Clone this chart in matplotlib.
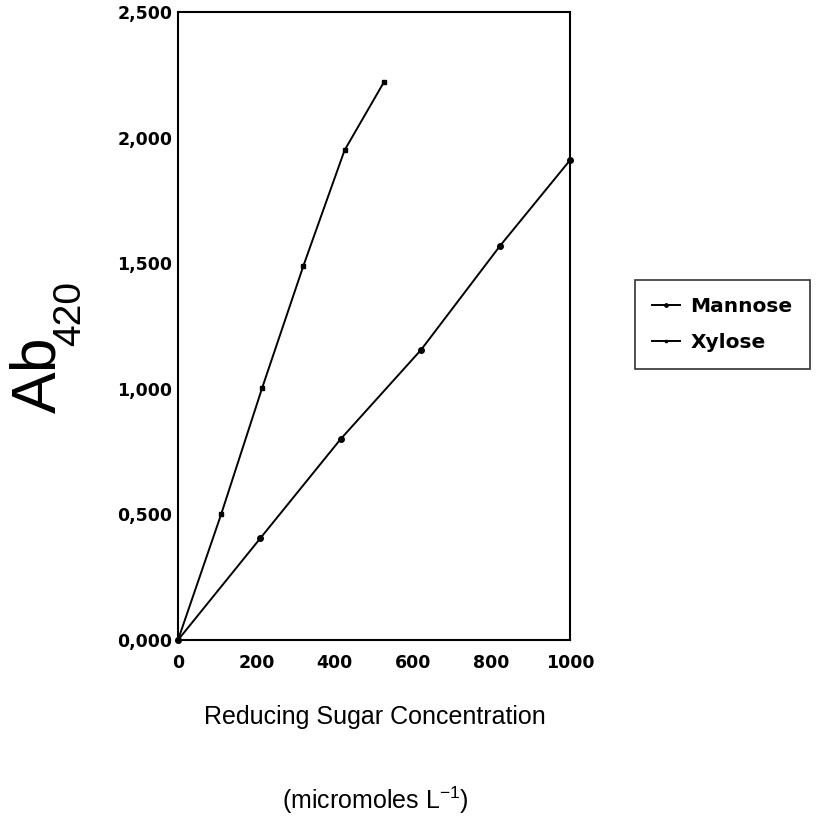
import numpy as np
import matplotlib
matplotlib.use("Agg")
from matplotlib import pyplot as plt

plt.rcParams['mathtext.fontset'] = 'custom'
plt.rcParams['mathtext.rm'] = 'Liberation Sans'
plt.rcParams['mathtext.it'] = 'Liberation Sans'

# values
mannose_x = [0, 210, 415, 620, 822, 1000]
mannose_y = [0.0, 0.405, 0.80, 1.155, 1.57, 1.91]
xylose_x = [0, 110, 215, 320, 425, 525]
xylose_y = [0.0, 0.50, 1.005, 1.49, 1.95, 2.22]

x_ticks = [0, 200, 400, 600, 800, 1000]
y_ticks = [0.0, 0.5, 1.0, 1.5, 2.0, 2.5]
y_ticklabels = ['0,000', '0,500', '1,000', '1,500', '2,000', '2,500']

fig = plt.figure(figsize=(8.21, 8.25), dpi=100)
ax = fig.add_axes([178/821, 1-640/825, (570-178)/821, (640-12)/825])

ax.plot(mannose_x, mannose_y, color='black', lw=1.4, marker='o', ms=4,
        label='Mannose', clip_on=False)
ax.plot(xylose_x, xylose_y, color='black', lw=1.4, marker='s', ms=3.5,
        label='Xylose', clip_on=False)

ax.set_xlim(0, 1000)
ax.set_ylim(0, 2.5)
ax.set_xticks(x_ticks)
ax.set_xticklabels([str(t) for t in x_ticks], fontsize=12.5, fontweight='bold')
ax.set_yticks(y_ticks)
ax.set_yticklabels(y_ticklabels, fontsize=12.5, fontweight='bold')
ax.tick_params(length=0)
ax.tick_params(axis='x', pad=10)
ax.tick_params(axis='y', pad=4)
for s in ax.spines.values():
    s.set_linewidth(1.5)

# y label: "Ab" with a smaller, lowered "420"
fig.text(55/821, 1-413/825, 'Ab', rotation=90, rotation_mode='anchor',
         ha='left', va='baseline', fontsize=45, family='Liberation Sans')
fig.text(80/821, 1-346/825, '420', rotation=90, rotation_mode='anchor',
         ha='left', va='baseline', fontsize=28, family='Liberation Sans')

fig.text(375/821, 1-717/825, 'Reducing Sugar Concentration', fontsize=18,
         family='Liberation Sans', ha='center', va='center')
fig.text(375/821, 1-800/825, r'(micromoles L$^{\mathrm{-1}}$)', fontsize=18,
         family='Liberation Sans', ha='center', va='center')

leg = fig.legend(loc='upper left', bbox_to_anchor=(635/821, 1-280/825),
                 borderaxespad=0, fancybox=False, edgecolor='black',
                 handlelength=1.4, handletextpad=0.5, borderpad=0.85,
                 labelspacing=0.85, prop={'size': 14.5, 'weight': 'bold'},
                 markerscale=0.6)
leg.get_frame().set_linewidth(1.2)

fig.savefig('out.png', dpi=100)
